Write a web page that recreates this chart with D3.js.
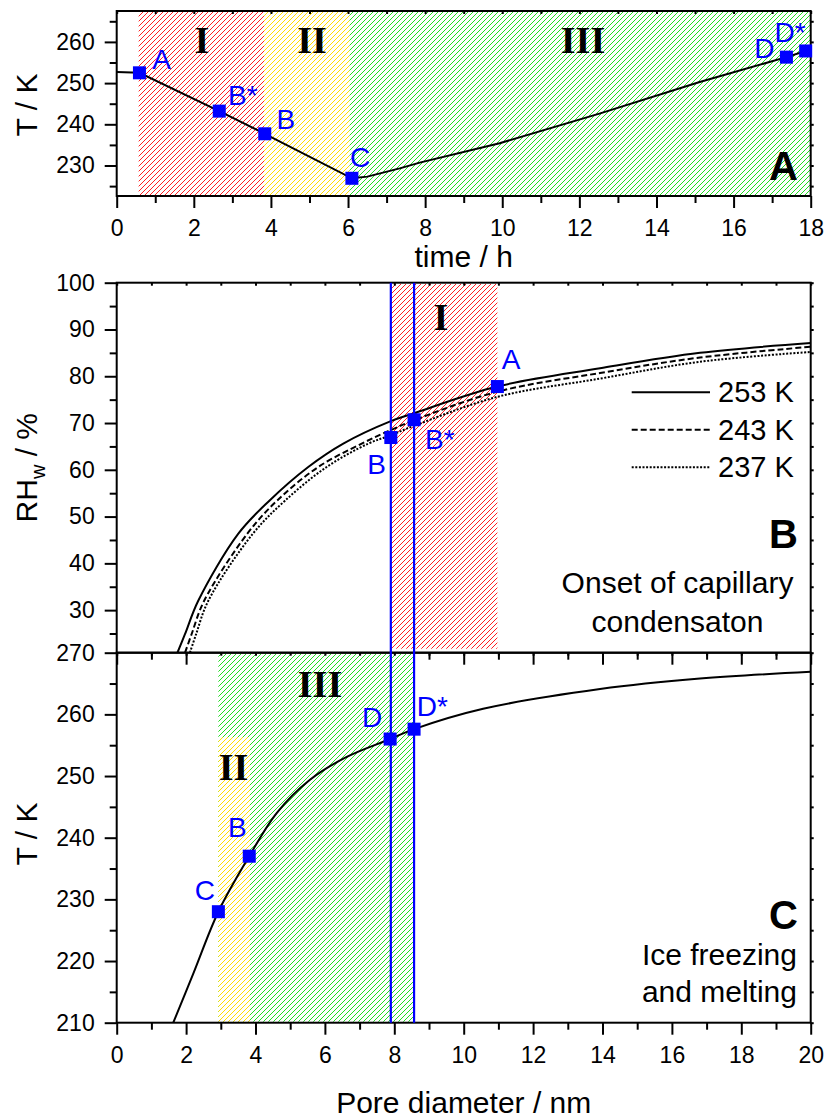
<!DOCTYPE html>
<html>
<head>
<meta charset="utf-8">
<script src="https://cdn.jsdelivr.net/npm/d3@7"></script>
<style>
  body { margin: 0; background: #fff; }
  text { font-family: "Liberation Sans", Arial, sans-serif; }
</style>
</head>
<body>
<div id="container"></div>
<script>
// ---- data ----

// panel A: temperature program vs time
var timeA = [0, 0.59, 2.66, 3.84, 6.1, 6.5, 7.34, 7.86, 9.93, 12.52, 15.1, 17.37, 17.87];
var tempA = [252.7, 252.5, 243.2, 237.7, 226.9, 227.3, 229.3, 230.7, 235.4, 242.6, 250.2, 256.3, 257.8];
var markNamesA = ["A", "B*", "B", "C", "D", "D*"];
var markTimeA = [0.59, 2.66, 3.84, 6.1, 17.37, 17.87];
var markTempA = [252.5, 243.2, 237.7, 226.9, 256.3, 257.8];
var stageNames = ["I", "II", "III"];
var stageTimeA = [[0.57, 3.82], [3.82, 6.04], [6.04, 18]];

// panel B: RH for capillary condensation onset vs pore diameter
var diam253 = [1.75, 1.97, 2.35, 3.5, 4.4, 5.52, 6.53, 7.9, 8.57, 10.97, 13.93, 16.81, 20];
var rh253 = [20.9, 24.9, 32.0, 46.3, 53.4, 60.6, 65.6, 70.4, 72.1, 77.8, 81.7, 85.0, 87.1];
var diam243 = [1.97, 2.16, 2.52, 3.76, 4.62, 5.81, 7.06, 7.9, 8.57, 10.97, 13.93, 16.81, 20];
var rh243 = [20.9, 24.9, 32.0, 46.3, 53.4, 60.6, 65.6, 68.5, 70.6, 76.7, 80.7, 84.0, 86.3];
var diam237 = [2.11, 2.29, 2.64, 3.92, 4.85, 6.05, 7.25, 7.9, 8.57, 10.97, 13.93, 16.81, 20];
var rh237 = [20.9, 24.9, 32.0, 46.3, 53.4, 60.6, 65.6, 67.4, 69.4, 75.6, 79.5, 83.1, 85.2];
var legendNames = ["253 K", "243 K", "237 K"];
var markNamesB = ["A", "B*", "B"];
var markDiamB = [10.97, 8.57, 7.9];
var markRhB = [77.8, 70.7, 66.9];
var stageDiamB = [7.9, 10.97];

// panel C: freezing / melting temperature vs pore diameter
var diamC = [1.63, 2.21, 2.93, 3.82, 4.61, 5.57, 6.63, 7.88, 8.57, 10.56, 13.93, 16.81, 20];
var tempC = [210, 218.0, 228.0, 237.0, 244.0, 249.4, 253.1, 256.0, 257.6, 260.9, 264.1, 265.8, 266.9];
var markNamesC = ["C", "B", "D", "D*"];
var markDiamC = [2.93, 3.82, 7.88, 8.57];
var markTempC = [228.0, 237.0, 256.0, 257.6];
var stageDiamC2 = [2.93, 3.84];   // II
var stageTopC2 = 256.3;
var stageDiamC3 = [2.93, 8.57];   // III

// the two pore sizes marked by vertical lines
var poreLines = [7.9, 8.57];

// ---- layout ----
var width = 826, height = 1120;
var left = 116.7, right = 810.7;
var blue = "#0000ff";
var hatchColors = { I: "#ff2020", II: "#ffdc00", III: "#22dd22" };

var svg = d3.select("#container").append("svg")
  .attr("width", width)
  .attr("height", height);

var defs = svg.append("defs");
stageNames.forEach(function (n) {
  var p = defs.append("pattern")
    .attr("id", "hatch" + n)
    .attr("patternUnits", "userSpaceOnUse")
    .attr("width", 5).attr("height", 5);
  p.append("rect").attr("width", 5).attr("height", 5).attr("fill", "#fff");
  p.append("path")
    .attr("d", "M-1,6 L6,-1 M-1,1 L1,-1 M4,6 L6,4")
    .attr("stroke", hatchColors[n])
    .attr("stroke-width", 1)
    .attr("shape-rendering", "crispEdges");
});

var x = d3.scaleLinear().domain([0, 18]).range([left, right]);
var yA = d3.scaleLinear().domain([222.6, 267.5]).range([196, 11]);
var xD = d3.scaleLinear().domain([0, 20]).range([left, right]);
var yB = d3.scaleLinear().domain([20.9, 100]).range([652.7, 282.7]);
var yC = d3.scaleLinear().domain([210, 270]).range([1022.7, 652.7]);

function range(a, b, s) { return d3.range(a, b + 1e-9, s); }

function addAxes(xs, ys, top, bottom, xMaj, xMin, yMaj, yMin, showX) {
  var g = svg.append("g");
  g.append("g").attr("transform", "translate(0," + bottom + ")")
    .call(d3.axisBottom(xs).tickValues(xMin).tickSize(7).tickFormat(""));
  g.append("g").attr("transform", "translate(0," + bottom + ")")
    .call(d3.axisBottom(xs).tickValues(xMaj).tickSize(12).tickPadding(12)
      .tickFormat(showX ? d3.format("d") : ""));
  g.append("g").attr("transform", "translate(" + left + ",0)")
    .call(d3.axisLeft(ys).tickValues(yMin).tickSize(7).tickFormat(""));
  g.append("g").attr("transform", "translate(" + left + ",0)")
    .call(d3.axisLeft(ys).tickValues(yMaj).tickSize(12).tickPadding(10).tickFormat(d3.format("d")));
  // small ticks on top and right
  g.append("g").attr("transform", "translate(0," + top + ")")
    .call(d3.axisBottom(xs).tickValues(xMaj.concat(xMin)).tickSize(3).tickFormat(""));
  g.append("g").attr("transform", "translate(" + right + ",0)")
    .call(d3.axisRight(ys).tickValues(yMaj.concat(yMin)).tickSize(3).tickFormat(""));
  g.selectAll(".domain").remove();
  g.selectAll(".tick line").attr("stroke", "#000").attr("stroke-width", 2);
  g.selectAll(".tick text").attr("font-size", 23).attr("fill", "#000")
    .style("font-family", "'Liberation Sans', Arial, sans-serif");
  return g;
}

function frame(top, bottom) {
  svg.append("rect")
    .attr("x", left).attr("y", top)
    .attr("width", right - left).attr("height", bottom - top)
    .attr("fill", "none").attr("stroke", "#000").attr("stroke-width", 2);
}

function stageLabel(txt, cx, baseline) {
  svg.append("text")
    .attr("x", cx).attr("y", baseline)
    .attr("text-anchor", "middle")
    .attr("font-size", 38).attr("font-weight", "bold")
    .style("font-family", "'Liberation Serif', 'Times New Roman', serif")
    .text(txt);
}

function markers(xs, ys, xv, yv, names, offs) {
  var g = svg.append("g");
  g.selectAll("rect").data(xv).enter().append("rect")
    .attr("x", function (d) { return xs(d) - 6.5; })
    .attr("y", function (d, i) { return ys(yv[i]) - 6.5; })
    .attr("width", 13).attr("height", 13)
    .attr("fill", blue);
  g.selectAll("text").data(names).enter().append("text")
    .attr("x", function (d, i) { return xs(xv[i]) + offs[i][0]; })
    .attr("y", function (d, i) { return ys(yv[i]) + offs[i][1]; })
    .attr("text-anchor", function (d, i) { return offs[i][2] || "start"; })
    .attr("font-size", 28).attr("fill", blue)
    .text(function (d) { return d; });
}

function panelTag(txt, baseline) {
  svg.append("text")
    .attr("x", 798).attr("y", baseline)
    .attr("text-anchor", "end")
    .attr("font-size", 40).attr("font-weight", "bold")
    .text(txt);
}

function yTitle(cy, build) {
  var t = svg.append("text")
    .attr("transform", "translate(37," + cy + ") rotate(-90)")
    .attr("text-anchor", "middle")
    .attr("font-size", 30);
  build(t);
}

// ---- panel A ----
stageTimeA.forEach(function (r, i) {
  svg.append("rect")
    .attr("x", x(r[0])).attr("y", 12)
    .attr("width", x(r[1]) - x(r[0])).attr("height", 196 - 12 - 1)
    .attr("fill", "url(#hatch" + stageNames[i] + ")");
});
stageLabel("I", 202, 53);
stageLabel("II", 312, 53);
stageLabel("III", 583, 53);

var lineA = d3.line()
  .x(function (d) { return x(d[0]); })
  .y(function (d) { return yA(d[1]); });
svg.append("path")
  .attr("d", lineA(d3.zip(timeA, tempA)))
  .attr("fill", "none").attr("stroke", "#000").attr("stroke-width", 2);

addAxes(x, yA, 11, 196, range(0, 18, 2), range(1, 17, 2), range(230, 260, 10), range(225, 265, 10), true);
frame(11, 196);

markers(x, yA, markTimeA, markTempA, markNamesA,
  [[12.7, -4], [8.7, -6], [11.7, -5], [-2, -11], [-12, 1, "end"], [0, -9.3, "end"]]);
panelTag("A", 180);

yTitle(105, function (t) { t.text("T / K"); });
svg.append("text")
  .attr("x", (left + right) / 2).attr("y", 266.7)
  .attr("text-anchor", "middle").attr("font-size", 30)
  .text("time / h");

// ---- panel B ----
svg.append("rect")
  .attr("x", xD(stageDiamB[0])).attr("y", 284)
  .attr("width", xD(stageDiamB[1]) - xD(stageDiamB[0])).attr("height", 652.7 - 284 - 4)
  .attr("fill", "url(#hatchI)");
stageLabel("I", 441, 330);

var clipB = defs.append("clipPath").attr("id", "clipB");
clipB.append("rect").attr("x", left).attr("y", 282.7)
  .attr("width", right - left).attr("height", 652.7 - 282.7);

var lineB = d3.line().curve(d3.curveCatmullRom.alpha(0.5))
  .x(function (d) { return xD(d[0]); })
  .y(function (d) { return yB(d[1]); });
var curvesB = [d3.zip(diam253, rh253), d3.zip(diam243, rh243), d3.zip(diam237, rh237)];
var dashes = [null, "6,3", "2,1.6"];
curvesB.forEach(function (c, i) {
  svg.append("path")
    .attr("clip-path", "url(#clipB)")
    .attr("d", lineB(c))
    .attr("fill", "none").attr("stroke", "#000").attr("stroke-width", 2)
    .attr("stroke-dasharray", dashes[i]);
});

// legend
legendNames.forEach(function (n, i) {
  var ly = 392.3 + i * 37.5;
  svg.append("line")
    .attr("x1", 631.7).attr("x2", 710).attr("y1", ly).attr("y2", ly)
    .attr("stroke", "#000").attr("stroke-width", 2)
    .attr("stroke-dasharray", dashes[i]);
  svg.append("text")
    .attr("x", 718).attr("y", ly + 10)
    .attr("font-size", 29)
    .text(n);
});

addAxes(xD, yB, 282.7, 652.7, range(0, 20, 2), range(1, 19, 2), range(30, 100, 10), range(25, 95, 10), false);

panelTag("B", 548);
svg.append("text").attr("x", 677.5).attr("y", 593.3)
  .attr("text-anchor", "middle").attr("font-size", 30).text("Onset of capillary");
svg.append("text").attr("x", 677.5).attr("y", 631.7)
  .attr("text-anchor", "middle").attr("font-size", 30).text("condensaton");

yTitle(467.7, function (t) {
  t.append("tspan").text("RH");
  t.append("tspan").attr("font-size", 20).attr("dy", 8).text("w");
  t.append("tspan").attr("dy", -8).text(" / %");
});

// ---- panel C ----
svg.append("rect")
  .attr("x", xD(stageDiamC3[0])).attr("y", 654)
  .attr("width", xD(stageDiamC3[1]) - xD(stageDiamC3[0])).attr("height", 1022.7 - 654 - 1)
  .attr("fill", "url(#hatchIII)");
svg.append("rect")
  .attr("x", xD(stageDiamC2[0])).attr("y", yC(stageTopC2))
  .attr("width", xD(stageDiamC2[1]) - xD(stageDiamC2[0])).attr("height", 1022.7 - yC(stageTopC2) - 1)
  .attr("fill", "url(#hatchII)");
stageLabel("III", 320, 697);
stageLabel("II", 233.5, 780);

var lineC = d3.line().curve(d3.curveCatmullRom.alpha(0.5))
  .x(function (d) { return xD(d[0]); })
  .y(function (d) { return yC(d[1]); });
svg.append("path")
  .attr("d", lineC(d3.zip(diamC, tempC)))
  .attr("fill", "none").attr("stroke", "#000").attr("stroke-width", 2);

addAxes(xD, yC, 652.7, 1022.7, range(0, 20, 2), range(1, 19, 2), range(210, 270, 10), range(215, 265, 10), true);
frame(282.7, 652.7);
frame(652.7, 1022.7);

// vertical pore-size lines through B and C
svg.selectAll(".poreline").data(poreLines).enter().append("line")
  .attr("class", "poreline")
  .attr("x1", function (d) { return xD(d); }).attr("x2", function (d) { return xD(d); })
  .attr("y1", 282.7).attr("y2", 1022.7)
  .attr("stroke", blue).attr("stroke-width", 2.2);

markers(xD, yB, markDiamB, markRhB, markNamesB,
  [[4.4, -17.4], [11, 29], [-5, 36, "end"]]);
markers(xD, yC, markDiamC, markTempC, markNamesC,
  [[-3.3, -11.7, "end"], [-2.6, -19.3, "end"], [-8, -11.7, "end"], [2.7, -13.3]]);

panelTag("C", 929);
svg.append("text").attr("x", 797).attr("y", 965)
  .attr("text-anchor", "end").attr("font-size", 30).text("Ice freezing");
svg.append("text").attr("x", 797).attr("y", 1001.7)
  .attr("text-anchor", "end").attr("font-size", 30).text("and melting");

yTitle(834, function (t) { t.text("T / K"); });
svg.append("text")
  .attr("x", (left + right) / 2).attr("y", 1113)
  .attr("text-anchor", "middle").attr("font-size", 30)
  .text("Pore diameter / nm");
</script>
</body>
</html>
